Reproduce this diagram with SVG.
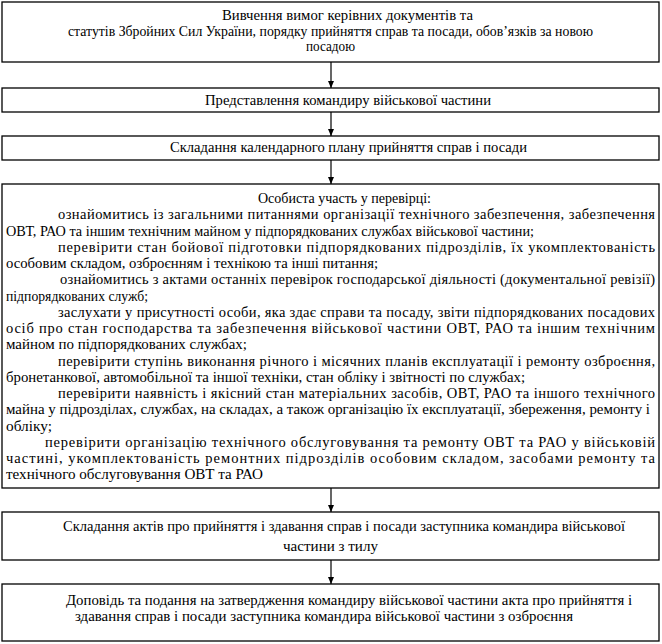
<svg xmlns="http://www.w3.org/2000/svg" width="662" height="644" viewBox="0 0 662 644">
<defs>
<style>
.box{fill:#fff;stroke:#000;stroke-width:1.3}
.c{stroke:#000;stroke-width:1.2;fill:none}
</style>
<marker id="ah" markerWidth="8" markerHeight="8" refX="7" refY="4" orient="auto" markerUnits="userSpaceOnUse">
<path d="M0,1 L7,4 L0,7 Z" fill="#000"/>
</marker>
</defs>
<rect width="662" height="644" fill="#fff"/>
<g id="connectors">
<line class="c" x1="331" y1="62" x2="331" y2="88" marker-end="url(#ah)"/>
<line class="c" x1="331" y1="112" x2="331" y2="136" marker-end="url(#ah)"/>
<line class="c" x1="331" y1="160" x2="331" y2="184" marker-end="url(#ah)"/>
<line class="c" x1="331" y1="488" x2="331" y2="512" marker-end="url(#ah)"/>
<line class="c" x1="331" y1="560" x2="331" y2="584" marker-end="url(#ah)"/>
</g>
<g id="node1" style="font-family:'Liberation Serif',serif;font-size:14.5px;fill:#000">
<rect class="box" x="2" y="2" width="657" height="60"/>
<text x="222" y="20" textLength="251" lengthAdjust="spacingAndGlyphs">Вивчення вимог керівних документів та</text>
<text x="68" y="36" textLength="525" lengthAdjust="spacingAndGlyphs">статутів Збройних Сил України, порядку прийняття справ та посади, обов’язків за новою</text>
<text x="306" y="51" textLength="49" lengthAdjust="spacingAndGlyphs">посадою</text>
</g>
<g id="node2" style="font-family:'Liberation Serif',serif;font-size:14.5px;fill:#000">
<rect class="box" x="2" y="88" width="657" height="24"/>
<text x="205" y="105" textLength="286" lengthAdjust="spacingAndGlyphs">Представлення командиру військової частини</text>
</g>
<g id="node3" style="font-family:'Liberation Serif',serif;font-size:14.5px;fill:#000">
<rect class="box" x="2" y="136" width="657" height="24"/>
<text x="170" y="152" textLength="357" lengthAdjust="spacingAndGlyphs">Складання календарного плану прийняття справ і посади</text>
</g>
<g id="node4" style="font-family:'Liberation Serif',serif;font-size:14.5px;fill:#000">
<rect class="box" x="2" y="184" width="657" height="304"/>
<text x="258" y="203" textLength="173" lengthAdjust="spacingAndGlyphs">Особиста участь у перевірці:</text>
<text x="58" y="219.3" textLength="597" lengthAdjust="spacing">ознайомитись із загальними питаннями організації технічного забезпечення, забезпечення</text>
<text x="6" y="235.5" textLength="528" lengthAdjust="spacingAndGlyphs">ОВТ, РАО та іншим технічним майном у підпорядкованих службах військової частини;</text>
<text x="58" y="251.8" textLength="597" lengthAdjust="spacing">перевірити стан бойової підготовки підпорядкованих підрозділів, їх укомплектованість</text>
<text x="6" y="268" textLength="372" lengthAdjust="spacingAndGlyphs">особовим складом, озброєнням і технікою та інші питання;</text>
<text x="60" y="284.3" textLength="595" lengthAdjust="spacing">ознайомитись з актами останніх перевірок господарської діяльності (документальної ревізії)</text>
<text x="6" y="300.5" textLength="142" lengthAdjust="spacingAndGlyphs">підпорядкованих служб;</text>
<text x="58" y="316.8" textLength="597" lengthAdjust="spacing">заслухати у присутності особи, яка здає справи та посаду, звіти підпорядкованих посадових</text>
<text x="6" y="333" textLength="649" lengthAdjust="spacing">осіб про стан господарства та забезпечення військової частини ОВТ, РАО та іншим технічним</text>
<text x="6" y="349.3" textLength="241" lengthAdjust="spacingAndGlyphs">майном по підпорядкованих службах;</text>
<text x="58" y="365.5" textLength="597" lengthAdjust="spacing">перевірити ступінь виконання річного і місячних планів експлуатації і ремонту озброєння,</text>
<text x="6" y="381.8" textLength="519" lengthAdjust="spacingAndGlyphs">бронетанкової, автомобільної та іншої техніки, стан обліку і звітності по службах;</text>
<text x="58" y="398" textLength="597" lengthAdjust="spacing">перевірити наявність і якісний стан матеріальних засобів, ОВТ, РАО та іншого технічного</text>
<text x="6" y="414.3" textLength="644" lengthAdjust="spacingAndGlyphs">майна у підрозділах, службах, на складах, а також організацію їх експлуатації, збереження, ремонту і</text>
<text x="6" y="430.5" textLength="46" lengthAdjust="spacingAndGlyphs">обліку;</text>
<text x="45" y="446.8" textLength="610" lengthAdjust="spacing">перевірити організацію технічного обслуговування та ремонту ОВТ та РАО у військовій</text>
<text x="6" y="463" textLength="649" lengthAdjust="spacing">частині, укомплектованість ремонтних підрозділів особовим складом, засобами ремонту та</text>
<text x="6" y="479.3" textLength="257" lengthAdjust="spacingAndGlyphs">технічного обслуговування ОВТ та РАО</text>
</g>
<g id="node5" style="font-family:'Liberation Serif',serif;font-size:14.5px;fill:#000">
<rect class="box" x="2" y="512" width="657" height="48"/>
<text x="63" y="531" textLength="562" lengthAdjust="spacingAndGlyphs">Складання актів про прийняття і здавання справ і посади заступника командира військової</text>
<text x="283" y="551" textLength="95" lengthAdjust="spacingAndGlyphs">частини з тилу</text>
</g>
<g id="node6" style="font-family:'Liberation Serif',serif;font-size:14.5px;fill:#000">
<rect class="box" x="2" y="584" width="657" height="57"/>
<text x="66" y="605" textLength="566" lengthAdjust="spacingAndGlyphs">Доповідь та подання на затвердження командиру військової частини акта про прийняття і</text>
<text x="75" y="621" textLength="498" lengthAdjust="spacingAndGlyphs">здавання справ і посади заступника командира військової частини з озброєння</text>
</g>
</svg>
